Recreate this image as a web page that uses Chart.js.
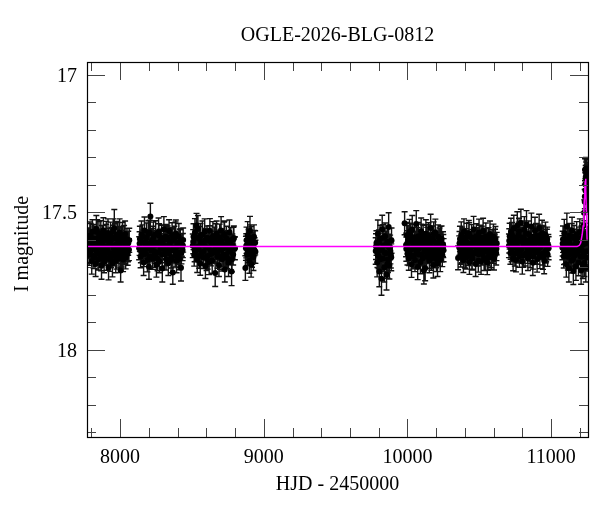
<!DOCTYPE html>
<html>
<head>
<meta charset="utf-8">
<script src="https://cdn.jsdelivr.net/npm/chart.js@4/dist/chart.umd.min.js"></script>
<style>
  html, body { margin: 0; padding: 0; background: #fff; }
  #wrap { width: 600px; height: 512px; }
</style>
</head>
<body>
<div id="wrap"><canvas id="c" width="600" height="512"></canvas></div>
<script>
// ---------- data: [HJD-2450000, I mag, error] ----------
const season1 = [[7776,17.628,0.040],[7781,17.602,0.045],[7785,17.655,0.038],[7790,17.585,0.050],[7794,17.641,0.042],[7799,17.612,0.036],[7803,17.677,0.048],[7808,17.571,0.044],[7812,17.633,0.039],[7817,17.596,0.052],[7821,17.664,0.041],[7826,17.619,0.037],[7830,17.688,0.046],[7835,17.561,0.049],[7839,17.645,0.040],[7844,17.607,0.043],[7848,17.672,0.038],[7853,17.589,0.055],[7857,17.626,0.041],[7862,17.658,0.044],[7866,17.578,0.047],[7871,17.694,0.050],[7875,17.615,0.036],[7880,17.642,0.042],[7884,17.566,0.046],[7889,17.681,0.039],[7893,17.603,0.044],[7898,17.637,0.041],[7902,17.592,0.048],[7907,17.668,0.043],[7911,17.624,0.037],[7916,17.575,0.051],[7920,17.701,0.045],[7925,17.611,0.040],[7929,17.649,0.042],[7934,17.583,0.047],[7938,17.662,0.039],[7943,17.598,0.043],[7947,17.686,0.049],[7952,17.569,0.045],[7956,17.631,0.038],[7960,17.558,0.068],[7963,17.654,0.041],[7965,17.594,0.052],[7970,17.676,0.044],[7974,17.616,0.037],[7979,17.581,0.048],[7983,17.645,0.042],[7988,17.603,0.046],[7992,17.667,0.040],[7997,17.574,0.050],[8001,17.639,0.039],[8004,17.712,0.042],[8008,17.597,0.045],[8012,17.658,0.041],[8017,17.586,0.049],[8021,17.672,0.044],[8026,17.612,0.038],[8030,17.643,0.043],[8035,17.579,0.047],[8039,17.665,0.041],[8044,17.621,0.045],[8048,17.598,0.039],[8053,17.651,0.042],[8057,17.613,0.044],[8062,17.636,0.040]];
const season1b = [[7778,17.611,0.041],[7787,17.642,0.044],[7796,17.587,0.046],[7805,17.624,0.039],[7814,17.659,0.043],[7823,17.598,0.047],[7832,17.633,0.040],[7841,17.572,0.045],[7850,17.648,0.042],[7859,17.606,0.044],[7868,17.667,0.046],[7877,17.589,0.041],[7886,17.627,0.043],[7895,17.654,0.040],[7904,17.581,0.048],[7913,17.639,0.042],[7922,17.603,0.045],[7931,17.671,0.044],[7940,17.618,0.039],[7949,17.593,0.046],[7958,17.645,0.043],[7967,17.629,0.041],[7976,17.662,0.045],[7985,17.584,0.047],[7994,17.622,0.040],[8003,17.657,0.044],[8010,17.608,0.042],[8019,17.636,0.046],[8028,17.591,0.043],[8037,17.649,0.041],[8046,17.614,0.045],[8055,17.638,0.042],[8064,17.602,0.044]];
const season2 = [[8133,17.631,0.042],[8138,17.597,0.046],[8143,17.662,0.040],[8149,17.582,0.050],[8154,17.644,0.038],[8159,17.609,0.044],[8164,17.683,0.047],[8170,17.566,0.049],[8175,17.627,0.041],[8180,17.651,0.036],[8185,17.592,0.053],[8190,17.674,0.043],[8196,17.615,0.039],[8201,17.698,0.046],[8206,17.574,0.045],[8211,17.515,0.048],[8216,17.639,0.041],[8222,17.603,0.044],[8227,17.668,0.040],[8232,17.587,0.051],[8237,17.622,0.037],[8242,17.657,0.043],[8248,17.579,0.048],[8253,17.691,0.045],[8258,17.611,0.039],[8263,17.646,0.042],[8268,17.571,0.050],[8274,17.679,0.041],[8279,17.606,0.044],[8284,17.633,0.038],[8289,17.594,0.047],[8294,17.705,0.049],[8300,17.618,0.040],[8305,17.562,0.046],[8310,17.653,0.042],[8315,17.589,0.045],[8320,17.671,0.039],[8326,17.624,0.043],[8331,17.598,0.048],[8336,17.686,0.044],[8341,17.568,0.041],[8346,17.641,0.037],[8352,17.608,0.052],[8357,17.663,0.040],[8362,17.584,0.046],[8367,17.719,0.043],[8372,17.629,0.039],[8378,17.596,0.045],[8383,17.658,0.041],[8388,17.577,0.049],[8393,17.676,0.044],[8398,17.614,0.038],[8404,17.647,0.042],[8409,17.588,0.047],[8414,17.669,0.040],[8419,17.605,0.045],[8424,17.702,0.048],[8430,17.619,0.041],[8435,17.637,0.039],[8439,17.601,0.044]];
const season2b = [[8136,17.614,0.043],[8145,17.639,0.045],[8156,17.588,0.042],[8166,17.652,0.046],[8177,17.606,0.040],[8187,17.631,0.044],[8198,17.578,0.047],[8208,17.661,0.043],[8219,17.623,0.041],[8229,17.596,0.045],[8240,17.644,0.042],[8250,17.612,0.046],[8261,17.669,0.044],[8271,17.585,0.043],[8282,17.628,0.040],[8292,17.653,0.045],[8303,17.601,0.042],[8313,17.637,0.047],[8323,17.591,0.043],[8334,17.648,0.041],[8344,17.617,0.045],[8355,17.674,0.046],[8365,17.603,0.042],[8375,17.641,0.044],[8386,17.582,0.047],[8396,17.626,0.041],[8406,17.659,0.043],[8417,17.609,0.045],[8427,17.646,0.042],[8437,17.621,0.044]];
const season3 = [[8506,17.622,0.043],[8511,17.589,0.047],[8516,17.656,0.040],[8521,17.574,0.051],[8527,17.641,0.038],[8532,17.548,0.044],[8537,17.673,0.046],[8542,17.561,0.049],[8547,17.634,0.041],[8553,17.597,0.045],[8558,17.687,0.042],[8563,17.613,0.037],[8568,17.649,0.044],[8573,17.582,0.050],[8579,17.664,0.041],[8584,17.618,0.039],[8589,17.571,0.047],[8594,17.696,0.045],[8599,17.627,0.040],[8605,17.593,0.043],[8610,17.659,0.048],[8615,17.604,0.042],[8620,17.681,0.046],[8625,17.567,0.044],[8631,17.638,0.038],[8636,17.612,0.043],[8641,17.675,0.047],[8646,17.586,0.052],[8651,17.647,0.040],[8657,17.599,0.045],[8662,17.721,0.049],[8667,17.625,0.039],[8672,17.578,0.046],[8677,17.662,0.042],[8683,17.609,0.044],[8688,17.693,0.041],[8693,17.591,0.048],[8698,17.636,0.038],[8703,17.566,0.050],[8709,17.671,0.043],[8714,17.617,0.040],[8719,17.652,0.045],[8724,17.583,0.047],[8729,17.708,0.046],[8735,17.628,0.041],[8740,17.595,0.044],[8745,17.666,0.039],[8750,17.611,0.043],[8755,17.684,0.050],[8761,17.573,0.045],[8766,17.643,0.040],[8771,17.602,0.046],[8776,17.716,0.051],[8781,17.621,0.042],[8787,17.654,0.038],[8792,17.594,0.044],[8797,17.632,0.041]];
const season3b = [[8509,17.607,0.044],[8519,17.638,0.042],[8529,17.593,0.046],[8539,17.626,0.041],[8550,17.659,0.045],[8560,17.584,0.043],[8571,17.617,0.040],[8581,17.643,0.046],[8592,17.601,0.042],[8602,17.668,0.044],[8612,17.629,0.041],[8622,17.596,0.047],[8633,17.652,0.043],[8643,17.614,0.045],[8654,17.639,0.042],[8664,17.588,0.046],[8675,17.646,0.040],[8685,17.621,0.044],[8695,17.662,0.046],[8706,17.604,0.043],[8716,17.633,0.041],[8727,17.579,0.047],[8737,17.655,0.044],[8748,17.609,0.042],[8758,17.642,0.045],[8768,17.625,0.041],[8779,17.671,0.046],[8789,17.598,0.043],[8799,17.631,0.042]];
const season4 = [[8872,17.703,0.045],[8876,17.631,0.044],[8880,17.602,0.048],[8884,17.655,0.040],[8888,17.584,0.050],[8892,17.641,0.043],[8896,17.612,0.039],[8900,17.676,0.046],[8904,17.567,0.052],[8908,17.628,0.041],[8912,17.689,0.047],[8916,17.596,0.044],[8920,17.647,0.042],[8924,17.618,0.045],[8928,17.663,0.049],[8932,17.589,0.043],[8936,17.639,0.046],[8940,17.611,0.044]];
const season4b = [[8878,17.622,0.044],[8886,17.648,0.046],[8894,17.605,0.042],[8902,17.639,0.045],[8910,17.594,0.048],[8918,17.657,0.043],[8926,17.631,0.044],[8934,17.612,0.046],[8942,17.644,0.042]];
const season5 = [[9779,17.641,0.048],[9784,17.612,0.045],[9789,17.683,0.052],[9794,17.578,0.050],[9799,17.659,0.046],[9804,17.716,0.055],[9809,17.596,0.049],[9814,17.637,0.044],[9819,17.742,0.060],[9824,17.562,0.051],[9829,17.668,0.047],[9834,17.621,0.045],[9839,17.701,0.053],[9844,17.587,0.048],[9849,17.649,0.046],[9854,17.727,0.056],[9859,17.608,0.050],[9864,17.672,0.047],[9869,17.554,0.052],[9874,17.694,0.049],[9879,17.628,0.045],[9884,17.655,0.048],[9889,17.603,0.046]];
const season5b = [[9781,17.625,0.047],[9791,17.652,0.049],[9801,17.609,0.045],[9811,17.671,0.050],[9821,17.634,0.046],[9831,17.593,0.048],[9841,17.646,0.047],[9851,17.618,0.049],[9861,17.689,0.051],[9871,17.626,0.046],[9881,17.641,0.047],[9887,17.664,0.049]];
const lonePoints = [[9980,17.540,0.042],[10352,17.666,0.043]];
const season6 = [[9990,17.619,0.043],[9995,17.584,0.047],[10000,17.651,0.041],[10004,17.598,0.050],[10009,17.667,0.044],[10014,17.572,0.046],[10019,17.638,0.039],[10023,17.605,0.045],[10028,17.689,0.048],[10033,17.563,0.051],[10038,17.627,0.040],[10042,17.658,0.043],[10047,17.591,0.047],[10052,17.674,0.042],[10057,17.612,0.038],[10061,17.543,0.049],[10066,17.645,0.044],[10071,17.699,0.046],[10076,17.587,0.050],[10080,17.632,0.041],[10085,17.609,0.045],[10090,17.681,0.043],[10095,17.569,0.048],[10099,17.653,0.040],[10104,17.621,0.044],[10109,17.594,0.047],[10114,17.712,0.049],[10118,17.636,0.039],[10123,17.704,0.045],[10128,17.578,0.051],[10133,17.662,0.042],[10137,17.601,0.046],[10142,17.643,0.040],[10147,17.586,0.048],[10152,17.676,0.044],[10156,17.614,0.041],[10161,17.557,0.050],[10166,17.668,0.043],[10171,17.629,0.039],[10175,17.596,0.046],[10180,17.692,0.047],[10185,17.607,0.042],[10190,17.649,0.044],[10194,17.574,0.049],[10199,17.661,0.041],[10204,17.618,0.045],[10209,17.686,0.048],[10213,17.589,0.043],[10218,17.641,0.040],[10223,17.603,0.046],[10228,17.672,0.044],[10232,17.624,0.041],[10237,17.597,0.047],[10242,17.655,0.043],[10247,17.616,0.045],[10251,17.638,0.042]];
const season6b = [[9992,17.634,0.044],[10002,17.609,0.042],[10011,17.648,0.046],[10021,17.583,0.043],[10030,17.626,0.041],[10040,17.661,0.045],[10049,17.612,0.043],[10059,17.639,0.047],[10068,17.598,0.042],[10078,17.654,0.044],[10087,17.621,0.041],[10097,17.589,0.046],[10106,17.667,0.045],[10116,17.614,0.042],[10125,17.643,0.044],[10135,17.592,0.047],[10144,17.628,0.041],[10154,17.659,0.045],[10163,17.604,0.043],[10173,17.647,0.046],[10182,17.579,0.044],[10192,17.633,0.042],[10201,17.671,0.045],[10211,17.616,0.041],[10220,17.652,0.044],[10230,17.597,0.046],[10239,17.638,0.043],[10249,17.623,0.042]];
const season7 = [[10360,17.628,0.042],[10365,17.597,0.046],[10370,17.659,0.040],[10374,17.583,0.048],[10379,17.641,0.043],[10384,17.612,0.039],[10389,17.674,0.045],[10393,17.571,0.047],[10398,17.636,0.041],[10403,17.604,0.044],[10408,17.665,0.042],[10412,17.589,0.049],[10417,17.623,0.038],[10422,17.651,0.043],[10427,17.576,0.046],[10431,17.682,0.044],[10436,17.615,0.040],[10441,17.643,0.042],[10446,17.592,0.047],[10450,17.669,0.041],[10455,17.608,0.045],[10460,17.563,0.048],[10465,17.647,0.039],[10469,17.625,0.043],[10474,17.688,0.046],[10479,17.586,0.044],[10484,17.634,0.040],[10488,17.601,0.045],[10493,17.676,0.042],[10498,17.574,0.049],[10503,17.639,0.041],[10507,17.617,0.044],[10512,17.679,0.047],[10517,17.594,0.043],[10522,17.652,0.040],[10526,17.568,0.046],[10531,17.631,0.042],[10536,17.606,0.045],[10541,17.671,0.041],[10545,17.587,0.048],[10550,17.644,0.039],[10555,17.683,0.044],[10560,17.665,0.046],[10564,17.598,0.042],[10569,17.656,0.040],[10574,17.579,0.047],[10579,17.627,0.043],[10583,17.664,0.045],[10588,17.604,0.041],[10593,17.642,0.044],[10598,17.589,0.046],[10602,17.668,0.042],[10607,17.621,0.040],[10612,17.597,0.045],[10617,17.649,0.043],[10621,17.614,0.041]];
const season7b = [[10362,17.613,0.043],[10372,17.644,0.045],[10381,17.596,0.042],[10391,17.631,0.044],[10400,17.657,0.046],[10410,17.608,0.041],[10419,17.639,0.043],[10429,17.585,0.047],[10438,17.626,0.042],[10448,17.662,0.045],[10457,17.617,0.043],[10467,17.599,0.044],[10476,17.648,0.041],[10486,17.621,0.046],[10495,17.653,0.043],[10505,17.592,0.045],[10514,17.635,0.042],[10524,17.611,0.044],[10533,17.666,0.046],[10543,17.624,0.041],[10552,17.603,0.045],[10562,17.641,0.043],[10571,17.617,0.042],[10581,17.656,0.046],[10590,17.622,0.044],[10600,17.638,0.041],[10609,17.607,0.045],[10619,17.633,0.043]];
const season8 = [[10706,17.622,0.043],[10711,17.587,0.047],[10716,17.648,0.041],[10720,17.571,0.049],[10725,17.636,0.044],[10730,17.603,0.040],[10735,17.667,0.046],[10740,17.559,0.048],[10745,17.628,0.042],[10750,17.594,0.045],[10755,17.674,0.043],[10760,17.612,0.039],[10764,17.548,0.050],[10769,17.641,0.044],[10774,17.583,0.047],[10779,17.659,0.041],[10784,17.606,0.045],[10789,17.538,0.049],[10794,17.633,0.042],[10799,17.679,0.046],[10804,17.592,0.044],[10809,17.619,0.040],[10813,17.564,0.048],[10818,17.652,0.043],[10823,17.601,0.045],[10828,17.545,0.051],[10833,17.627,0.041],[10838,17.668,0.044],[10843,17.579,0.047],[10848,17.614,0.042],[10853,17.656,0.045],[10858,17.589,0.043],[10862,17.552,0.049],[10867,17.638,0.040],[10872,17.684,0.046],[10877,17.597,0.044],[10882,17.623,0.041],[10887,17.566,0.048],[10892,17.645,0.043],[10897,17.609,0.045],[10902,17.671,0.047],[10907,17.585,0.042],[10911,17.632,0.040],[10916,17.557,0.050],[10921,17.661,0.044],[10926,17.604,0.046],[10931,17.617,0.041],[10936,17.576,0.047],[10941,17.649,0.043],[10946,17.595,0.045],[10951,17.676,0.048],[10956,17.611,0.042],[10960,17.582,0.046],[10965,17.639,0.041],[10970,17.606,0.044],[10975,17.654,0.043],[10980,17.621,0.040]];
const season8b = [[10708,17.604,0.044],[10718,17.629,0.042],[10727,17.583,0.046],[10737,17.616,0.041],[10747,17.651,0.045],[10757,17.592,0.043],[10766,17.627,0.044],[10776,17.569,0.047],[10786,17.638,0.042],[10796,17.601,0.045],[10806,17.657,0.043],[10815,17.614,0.041],[10825,17.578,0.046],[10835,17.642,0.044],[10845,17.607,0.042],[10855,17.632,0.045],[10864,17.589,0.043],[10874,17.661,0.046],[10884,17.611,0.041],[10894,17.586,0.045],[10904,17.646,0.043],[10913,17.603,0.044],[10923,17.628,0.042],[10933,17.594,0.046],[10943,17.663,0.045],[10953,17.618,0.041],[10962,17.641,0.044],[10972,17.597,0.043],[10982,17.631,0.042]];
const season9 = [[11078,17.629,0.044],[11082,17.598,0.048],[11087,17.661,0.042],[11091,17.576,0.050],[11096,17.643,0.045],[11100,17.612,0.041],[11105,17.689,0.047],[11109,17.552,0.049],[11114,17.634,0.043],[11118,17.603,0.046],[11123,17.704,0.050],[11127,17.585,0.044],[11132,17.652,0.042],[11136,17.621,0.047],[11141,17.676,0.045],[11145,17.566,0.048],[11150,17.639,0.043],[11154,17.714,0.049],[11159,17.594,0.046],[11163,17.657,0.042],[11168,17.615,0.045],[11172,17.697,0.051],[11177,17.581,0.047],[11181,17.646,0.043],[11186,17.608,0.046],[11190,17.683,0.048],[11195,17.627,0.044],[11199,17.573,0.049],[11204,17.661,0.045],[11208,17.712,0.050],[11211,17.596,0.046],[11214,17.638,0.043],[11217,17.586,0.047],[11220,17.692,0.049],[11223,17.612,0.045],[11225,17.548,0.048],[11227,17.648,0.046],[11229,17.502,0.047],[11231,17.684,0.050],[11233,17.462,0.045],[11235,17.345,0.040],[11236,17.611,0.048],[11238,17.421,0.043],[11240,17.372,0.042],[11241,17.702,0.052],[11243,17.358,0.041],[11244,17.395,0.043],[11245,17.587,0.047],[11247,17.366,0.040],[11248,17.430,0.042],[11249,17.642,0.049],[11251,17.382,0.041],[11253,17.455,0.044]];
const season9b = [[11080,17.614,0.045],[11089,17.643,0.047],[11098,17.597,0.044],[11107,17.631,0.046],[11116,17.662,0.048],[11125,17.606,0.045],[11134,17.639,0.043],[11143,17.588,0.047],[11152,17.671,0.049],[11161,17.624,0.044],[11170,17.652,0.046],[11179,17.609,0.045],[11188,17.641,0.047],[11197,17.598,0.044],[11206,17.635,0.046],[11215,17.662,0.048],[11222,17.617,0.045],[11230,17.578,0.047],[11234,17.443,0.044],[11237,17.398,0.042],[11239,17.613,0.047],[11242,17.341,0.041],[11246,17.352,0.042],[11247,17.665,0.049],[11250,17.361,0.041],[11252,17.404,0.043],[11254,17.598,0.046]];
const allSeasons = [season1, season1b, season2, season2b, season3, season3b, season4, season4b, season5, season5b, lonePoints, season6, season6b, season7, season7b, season8, season8b, season9, season9b];

// model light curve
const modelHJD = [7770, 11180, 11195, 11205, 11216, 11222, 11227, 11231, 11234, 11237, 11239, 11242, 11245, 11248, 11250];
const modelMag = [17.625, 17.625, 17.621, 17.612, 17.580, 17.550, 17.500, 17.450, 17.410, 17.385, 17.378, 17.420, 17.500, 17.570, 17.600];

// axes
const xRange = [7770, 11256];
const yRange = [16.953, 18.318];
const xMajorTicks = [8000, 9000, 10000, 11000];
const xTickLabels = ['8000', '9000', '10000', '11000'];
const xMinorTicks = [7800, 8200, 8400, 8600, 8800, 9200, 9400, 9600, 9800, 10200, 10400, 10600, 10800, 11200];
const yMajorTicks = [17, 17.5, 18];
const yTickLabels = ['17', '17.5', '18'];
const yMinorTicks = [17.1, 17.2, 17.3, 17.4, 17.6, 17.7, 17.8, 17.9, 18.1, 18.2, 18.3];
const titleText = 'OGLE-2026-BLG-0812';
const xTitle = 'HJD - 2450000';
const yTitle = 'I magnitude';

const FONT = '20px "Liberation Serif", "DejaVu Serif", serif';

const allPoints = [].concat(...allSeasons);

const errorBarPlugin = {
  id: 'errorBars',
  beforeDatasetsDraw(chart) {
    const { ctx, chartArea, scales: { x, y } } = chart;
    ctx.save();
    ctx.beginPath();
    ctx.rect(chartArea.left, chartArea.top, chartArea.width, chartArea.height);
    ctx.clip();
    ctx.strokeStyle = '#111';
    ctx.lineWidth = 1.4;
    ctx.beginPath();
    allPoints.forEach(([t, m, e]) => {
      const px = x.getPixelForValue(t);
      const y1 = y.getPixelForValue(m - e);
      const y2 = y.getPixelForValue(m + e);
      ctx.moveTo(px, y1); ctx.lineTo(px, y2);
      ctx.moveTo(px - 3, y1); ctx.lineTo(px + 3, y1);
      ctx.moveTo(px - 3, y2); ctx.lineTo(px + 3, y2);
    });
    ctx.stroke();
    ctx.restore();
  }
};

const framePlugin = {
  id: 'frame',
  afterDraw(chart) {
    const { ctx, chartArea: a, scales: { x, y } } = chart;
    ctx.save();
    ctx.strokeStyle = '#444';
    ctx.lineWidth = 1;
    ctx.beginPath();
    const xt = (v, len) => {
      const px = Math.round(x.getPixelForValue(v)) + 0.5;
      ctx.moveTo(px, a.bottom); ctx.lineTo(px, a.bottom - len);
      ctx.moveTo(px, a.top); ctx.lineTo(px, a.top + len);
    };
    const yt = (v, len) => {
      const py = Math.round(y.getPixelForValue(v)) + 0.5;
      ctx.moveTo(a.left, py); ctx.lineTo(a.left + len, py);
      ctx.moveTo(a.right, py); ctx.lineTo(a.right - len, py);
    };
    xMajorTicks.forEach(v => xt(v, 18));
    xMinorTicks.forEach(v => xt(v, 9));
    yMajorTicks.forEach(v => yt(v, 18));
    yMinorTicks.forEach(v => yt(v, 9));
    ctx.stroke();
    ctx.strokeStyle = '#000';
    ctx.lineWidth = 1.2;
    ctx.strokeRect(Math.round(a.left) + 0.5, Math.round(a.top) + 0.5,
                   Math.round(a.right) - Math.round(a.left), Math.round(a.bottom) - Math.round(a.top));
    ctx.fillStyle = '#000';
    ctx.font = FONT;
    ctx.textBaseline = 'alphabetic';
    ctx.textAlign = 'center';
    xMajorTicks.forEach((v, i) => ctx.fillText(xTickLabels[i], x.getPixelForValue(v), 463));
    ctx.textAlign = 'right';
    yMajorTicks.forEach((v, i) => ctx.fillText(yTickLabels[i], 77, y.getPixelForValue(v) + 7));
    ctx.textAlign = 'center';
    const cx = (a.left + a.right) / 2;
    ctx.fillText(titleText, cx, 41);
    ctx.fillText(xTitle, cx, 490);
    ctx.translate(28, 244);
    ctx.rotate(-Math.PI / 2);
    ctx.fillText(yTitle, 0, 0);
    ctx.restore();
  }
};

new Chart(document.getElementById('c'), {
  type: 'scatter',
  data: {
    datasets: [
      {
        label: 'model',
        data: modelHJD.map((t, i) => ({ x: t, y: modelMag[i] })),
        showLine: true,
        borderColor: '#ff00ff',
        borderWidth: 1.5,
        pointRadius: 0,
        tension: 0,
        order: 0
      },
      {
        label: 'OGLE I',
        data: allPoints.map(p => ({ x: p[0], y: p[1] })),
        showLine: false,
        pointRadius: 3,
        pointBackgroundColor: '#000',
        pointBorderWidth: 0,
        borderColor: '#000',
        order: 1
      }
    ]
  },
  options: {
    responsive: false,
    animation: false,
    devicePixelRatio: 1,
    layout: { padding: { left: 87, right: 12, top: 62, bottom: 75 } },
    scales: {
      x: { type: 'linear', min: xRange[0], max: xRange[1], display: false },
      y: { type: 'linear', min: yRange[0], max: yRange[1], reverse: true, display: false }
    },
    plugins: { legend: { display: false }, tooltip: { enabled: false }, title: { display: false } }
  },
  plugins: [errorBarPlugin, framePlugin]
});
</script>
</body>
</html>
